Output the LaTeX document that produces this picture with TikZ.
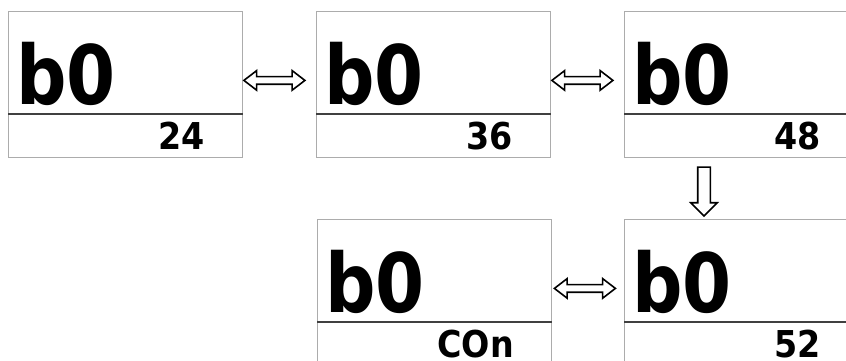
\documentclass[tikz,border=0pt]{standalone}
\usepackage{fontspec}
\usepackage{graphicx}
\usetikzlibrary{calc,shapes.arrows}
\newfontfamily\lcdfont{DejaVu Sans}
\begin{document}
\begin{tikzpicture}[x=1pt,y=-1pt,
		panel/.style={draw=gray!65, line width=0.8pt, minimum width=234pt, minimum height=146pt, inner sep=0pt, anchor=north west},
		bigtext/.style={inner sep=0pt, anchor=base west, font=\lcdfont\bfseries\fontsize{82}{82}\selectfont},
		smalltext/.style={inner sep=0pt, anchor=base east, font=\lcdfont\bfseries\fontsize{37}{37}\selectfont},
		harrow/.style={draw, line width=1.6pt, double arrow, double arrow head extend=6pt, double arrow tip angle=75, minimum height=61pt, inner xsep=0pt, inner ysep=3pt},
		varrow/.style={draw, line width=1.6pt, single arrow, single arrow head extend=7pt, single arrow tip angle=90, minimum height=49pt, inner sep=5.5pt, shape border rotate=270}]
	\useasboundingbox (0,0) rectangle (846,360);
	\clip (0,0) rectangle (846,360);
	% the five display screens
	\foreach \n/\x/\y/\v in {1/8/11/24, 2/316/11/36, 3/624/11/48, 4/317/219/COn, 5/624/219/52}{
		\node[panel] (p\n) at (\x,\y) {};
		\draw[line width=2pt, black!75] ($(p\n.north west)+(0,103)$) -- ($(p\n.north east)+(0,103)$);
		\node[bigtext] (b\n) at ($(p\n.north west)+(8,93)$) {\scalebox{0.86}[1]{b0}};
		\node[smalltext] (v\n) at ($(p\n.north west)+(197,138)$) {\scalebox{0.9}[1]{\v}};
	}
	% arrows between screens
	\node[harrow] (a12) at ($(p1.east)!0.5!(p2.west)+(-5,-4)$) {};
	\node[harrow] (a23) at ($(p2.east)!0.5!(p3.west)+(-5,-4)$) {};
	\node[harrow] (a45) at ($(p4.east)!0.5!(p5.west)+(-3,-4)$) {};
	\node[varrow] (a35) at ($(p3.south west)!0.5!(p5.north west)+(80,0)$) {};
\end{tikzpicture}
\end{document}
